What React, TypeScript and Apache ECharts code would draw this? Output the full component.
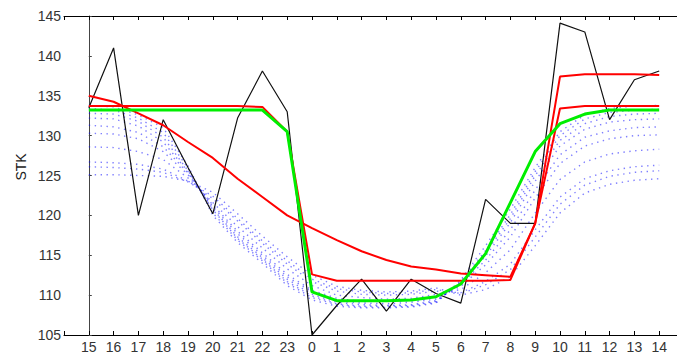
import React, { useEffect, useRef } from "react";
import * as echarts from "echarts";

const hours = ["15","16","17","18","19","20","21","22","23","0","1","2","3","4","5","6","7","8","9","10","11","12","13","14"];
const yTicks = [105, 110, 115, 120, 125, 130, 135, 140, 145];

const observed = [133.5,141,120,132,126,120.2,132.2,138.1,133,105,108.7,112,108,112,110.2,109,122,119,119,144.1,143,132,137,138.1];
const redStep = [133.7,133.7,133.7,133.7,133.7,133.7,133.7,133.6,130.5,112.6,111.8,111.8,111.8,111.8,111.8,111.8,111.8,111.9,119,133.4,133.7,133.7,133.7,133.7];
const redSmooth = [135,134.25,132.8,131.3,129.2,127.2,124.6,122.3,120,118.4,116.9,115.5,114.4,113.6,113.2,112.7,112.5,112.3,119,137.4,137.7,137.7,137.7,137.6];
const green = [133.2,133.2,133.2,133.2,133.2,133.2,133.2,133.2,130.5,110.4,109.3,109.3,109.3,109.4,109.8,111.4,115.2,121.6,128,131.5,132.7,133.2,133.2,133.2];

const blue0 = [133.8,133.6,132.6,131.0,126.2,120.0,116.6,114.0,111.2,109.4,108.6,108.4,108.4,108.5,109.0,111.9,116.2,120.8,126.0,130.5,132.6,133.4,133.7,133.8];
const blue1 = [133.4,133.2,132.2,130.4,125.9,120.3,116.9,114.3,111.5,109.7,108.8,108.5,108.5,108.6,109.1,111.7,115.6,120.1,125.5,130.0,132.1,132.9,133.2,133.3];
const blue2 = [132.8,132.7,131.8,129.8,125.6,120.7,117.1,114.5,111.7,109.9,108.9,108.6,108.6,108.7,109.2,111.6,115.3,119.6,125.0,129.4,131.5,132.4,132.7,132.8];
const blue3 = [132.2,132.1,131.2,129.2,125.5,120.8,117.3,114.7,112.0,110.1,109.1,108.8,108.7,108.8,109.3,111.5,114.9,119.1,124.3,128.7,130.8,131.7,132.0,132.1];
const blue4 = [131.3,131.1,130.4,128.6,125.3,121.1,117.7,115.0,112.3,110.4,109.3,109.0,108.9,109.1,109.5,111.3,114.4,118.2,123.2,127.6,129.8,130.6,131.0,131.1];
const blue5 = [130.3,130.2,129.6,128.0,125.1,121.3,118.0,115.3,112.6,110.6,109.6,109.2,109.2,109.3,109.7,111.1,113.8,117.3,122.2,126.5,128.7,129.6,130.0,130.1];
const blue6 = [128.6,128.5,128.0,127.0,124.7,121.6,118.6,115.9,113.3,111.2,110.0,109.7,109.5,109.6,110.1,110.7,112.8,115.7,120.3,124.5,126.7,127.7,128.1,128.3];
const blue7 = [126.7,126.6,126.4,125.8,124.3,122.1,119.3,116.5,113.9,111.7,110.5,110.1,110.0,110.1,110.5,110.3,111.7,113.9,118.2,122.3,124.6,125.6,126.1,126.3];
const blue8 = [126.1,126.0,125.8,125.4,124.2,122.4,119.6,116.8,114.3,112.0,110.8,110.4,110.2,110.3,110.7,110.2,111.3,113.2,117.3,121.4,123.8,124.9,125.4,125.6];
const blue9 = [125.1,125.1,125.0,124.9,124.3,122.9,120.2,117.4,114.8,112.5,111.1,110.6,110.4,110.5,110.9,110.0,110.7,112.3,116.2,120.3,122.8,123.9,124.4,124.6];
const blueSeries = [blue0, blue1, blue2, blue3, blue4, blue5, blue6, blue7, blue8, blue9];

const FONT = "Liberation Sans, Arial, sans-serif";

function toPairs(arr: number[]) {
  return arr.map((v, i) => [i, v]);
}

export default function App() {
  const ref = useRef<HTMLDivElement>(null);
  useEffect(() => {
    if (!ref.current) return;
    const chart = echarts.init(ref.current, undefined, { renderer: "svg" });
    const xCommon = {
      type: "value" as const,
      min: -1,
      max: 24,
      interval: 1,
      splitLine: { show: false },
      axisLine: { show: true, onZero: false, lineStyle: { color: "#000", width: 1 } },
      axisTick: { show: true, inside: true, length: 4, lineStyle: { color: "#000" } },
    };
    chart.setOption({
      animation: false,
      grid: { left: 64, top: 16, right: -7, bottom: 19, containLabel: false, outerBoundsMode: "none" },
      xAxis: [
        {
          ...xCommon,
          position: "bottom",
          axisLabel: {
            show: true,
            margin: 5,
            fontFamily: FONT,
            fontSize: 14,
            color: "#333",
            formatter: (v: number) => (v >= 0 && v < hours.length ? hours[v] : ""),
          },
        },
        {
          ...xCommon,
          position: "top",
          axisLabel: { show: false },
        },
      ],
      yAxis: {
        type: "value",
        min: yTicks[0],
        max: yTicks[yTicks.length - 1],
        interval: 5,
        splitLine: { show: false },
        axisLine: { show: true, lineStyle: { color: "#444", width: 1 } },
        axisTick: { show: true, inside: true, length: 3, lineStyle: { color: "#444" } },
        axisLabel: { margin: 3, fontFamily: FONT, fontSize: 14, color: "#333" },
      },
      graphic: [
        {
          type: "text",
          x: 21,
          y: 167,
          rotation: Math.PI / 2,
          style: {
            text: "STK",
            fontFamily: FONT,
            fontSize: 14,
            fill: "#222",
            textAlign: "center",
            textVerticalAlign: "middle",
          },
        },
      ],
      series: [
        ...blueSeries.map((arr, k) => ({
          type: "line",
          name: "blue" + k,
          data: toPairs(arr),
          symbol: "none",
          silent: true,
          z: 1,
          lineStyle: { color: "#0000ff", width: 1.4, type: [1.4, 4.5], opacity: 0.5 },
        })),
        {
          type: "line",
          name: "observed",
          data: toPairs(observed),
          symbol: "none",
          z: 2,
          lineStyle: { color: "#111", width: 1.2 },
        },
        {
          type: "line",
          name: "redSmooth",
          data: toPairs(redSmooth),
          symbol: "none",
          z: 3,
          lineStyle: { color: "#ff0000", width: 2 },
        },
        {
          type: "line",
          name: "redStep",
          data: toPairs(redStep),
          symbol: "none",
          z: 3,
          lineStyle: { color: "#ff0000", width: 2 },
        },
        {
          type: "line",
          name: "green",
          data: toPairs(green),
          symbol: "none",
          z: 4,
          lineStyle: { color: "#00ee00", width: 3 },
        },
      ],
    });
    return () => chart.dispose();
  }, []);
  return (
    <div
      ref={ref}
      style={{ position: "fixed", left: 0, top: 0, width: 677, height: 354, background: "#fff" }}
    />
  );
}
